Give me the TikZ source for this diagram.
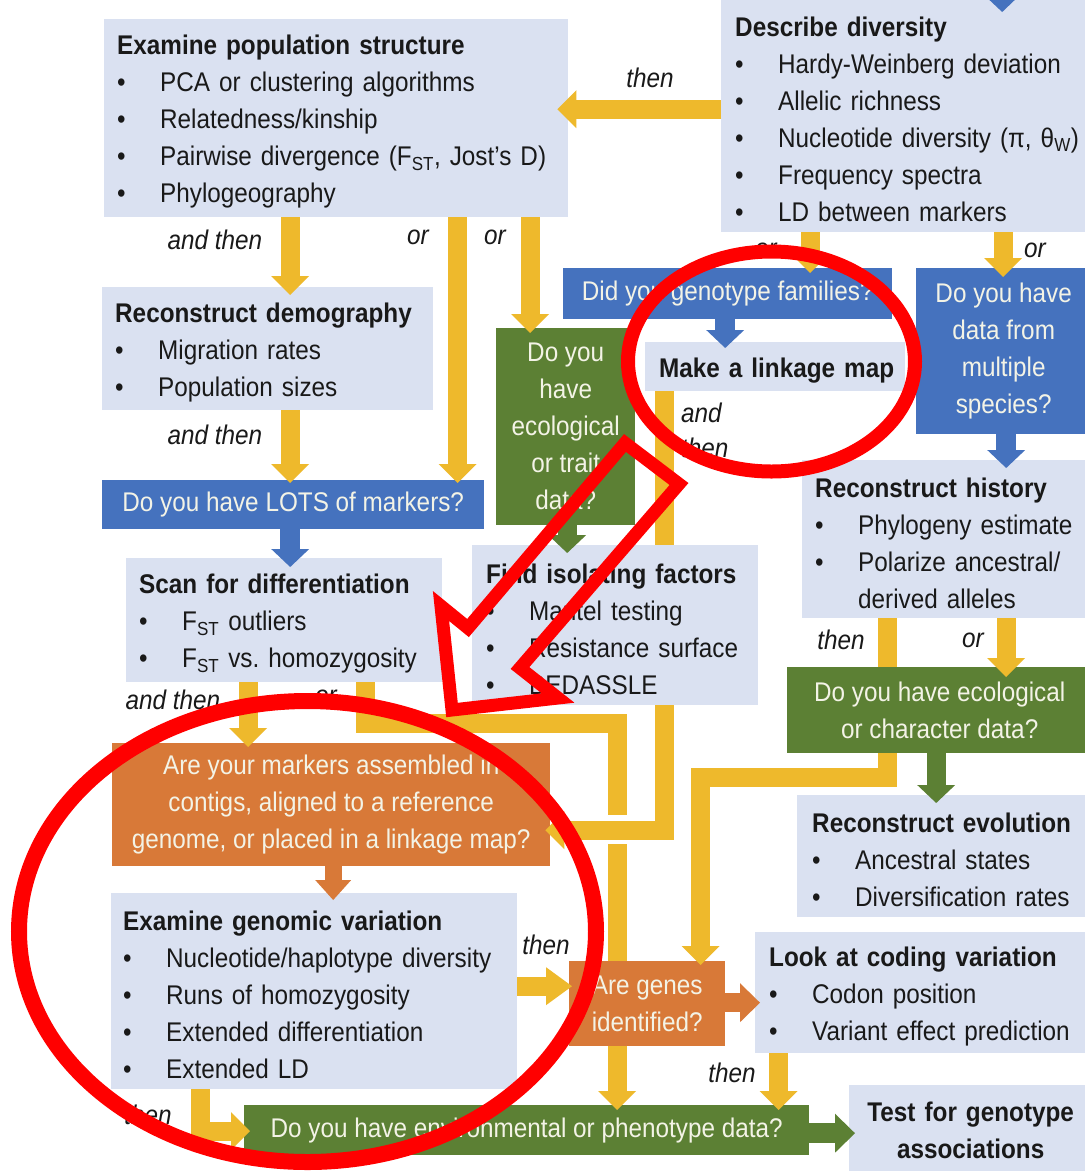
\documentclass[tikz,border=0pt]{standalone}
\usepackage{fontspec}
\setmainfont{Liberation Sans}[FakeStretch=0.90]
\usetikzlibrary{arrows.meta}
\definecolor{lbox}{RGB}{218,225,241}
\definecolor{bq}{RGB}{69,114,190}
\definecolor{gq}{RGB}{92,128,52}
\definecolor{oq}{RGB}{216,121,56}
\definecolor{yc}{RGB}{238,185,44}
\definecolor{qt}{RGB}{243,243,230}
\definecolor{tx}{RGB}{25,25,25}
\definecolor{rd}{RGB}{255,0,0}
\frenchspacing
\newcommand\bul{\makebox[43pt][l]{•}}
\newcommand\itm[1]{\\\bul\mbox{#1}}
\newcommand\ttl[1]{\rule{0pt}{27pt}\mbox{\textbf{#1}}}
\tikzset{
  fnt/.style={font=\fontsize{27}{37}\selectfont},
  lb/.style={fnt, text=tx, fill=lbox, anchor=north west, align=left, inner ysep=0pt, inner xsep=13pt},
  qb/.style={fnt, text=qt, fill=#1, anchor=north west, align=center, inner sep=0pt},
  lab/.style={font=\fontsize{27}{37}\selectfont\itshape, text=tx, inner sep=0pt},
  blk/.style n args={4}{draw=#1, line width=#2, -{Triangle[width=#3,length=#4,line width=0pt]}},
  yarr/.style={blk={yc}{19pt}{38pt}{19pt}},
  barr/.style={blk={bq}{20pt}{38pt}{18pt}},
  garr/.style={blk={gq}{19pt}{38pt}{18pt}},
  oarr/.style={blk={oq}{17pt}{36pt}{20pt}},
  redmark/.style={draw=rd, line width=#1, line join=miter},
}
\begin{document}
\begin{tikzpicture}[x=1pt,y=-1pt]
\useasboundingbox (0,0) rectangle (1085,1171);
\clip (0,0) rectangle (1085,1171);
\fill[white] (0,0) rectangle (1085,1171);

% ---------- boxes ----------
\node[lb, inner xsep=14pt, text width=352pt, minimum height=234pt] (desc) at (721,-2)
  {\ttl{Describe diversity}\itm{Hardy-Weinberg deviation}\itm{Allelic richness}\itm{Nucleotide diversity (π, θ\textsubscript{W})}\itm{Frequency spectra}\itm{LD between markers}};
\node[lb, text width=438pt, minimum height=198pt] (pop) at (104,19)
  {\ttl{Examine population structure}\itm{PCA or clustering algorithms}\itm{Relatedness/kinship}\itm{Pairwise divergence (F\textsubscript{ST}, Jost’s D)}\itm{Phylogeography}};
\node[lb, text width=305pt, minimum height=123pt] (demog) at (102,287)
  {\ttl{Reconstruct demography}\itm{Migration rates}\itm{Population sizes}};
\node[qb=bq, minimum width=382pt, minimum height=49pt] (lots) at (102,480) {Do you have LOTS of markers?};
\node[lb, text width=290pt, minimum height=124pt] (scan) at (126,558)
  {\ttl{Scan for differentiation}\itm{F\textsubscript{ST} outliers}\itm{F\textsubscript{ST} vs. homozygosity}};
\node[qb=bq, minimum width=329pt, minimum height=51pt] (fam) at (563,268) {Did you genotype families?};
\node[qb=bq, minimum width=175pt, minimum height=166pt] (multi) at (916,268) {Do you have\\data from\\multiple\\species?};
\node[qb=gq, minimum width=139pt, minimum height=197pt] (ecotrait) at (496,328) {Do you\\have\\ecological\\or trait\\data?};
\node[lb, inner xsep=14pt, text width=232pt, minimum height=49pt] (link) at (645,342) {\ttl{Make a linkage map}};
\node[lb, text width=274pt, minimum height=158pt] (hist) at (802,460)
  {\ttl{Reconstruct history}\itm{Phylogeny estimate}\itm{Polarize ancestral/}\\\hspace*{43pt}\mbox{derived alleles}};
\node[qb=oq, minimum width=438pt, minimum height=123pt] (markers) at (112,743)
  {Are your markers assembled in\\contigs, aligned to a reference\\genome, or placed in a linkage map?};
\node[lb, inner xsep=12pt, text width=382pt, minimum height=196pt] (gen) at (111,893)
  {\ttl{Examine genomic variation}\itm{Nucleotide/haplotype diversity}\itm{Runs of homozygosity}\itm{Extended differentiation}\itm{Extended LD}};
\node[lb, inner xsep=15pt, text width=270pt, minimum height=122pt] (evol) at (797,795)
  {\ttl{Reconstruct evolution}\itm{Ancestral states}\itm{Diversification rates}};
\node[lb, inner xsep=14pt, text width=312pt, minimum height=121pt] (code) at (755,932)
  {\ttl{Look at coding variation}\itm{Codon position}\itm{Variant effect prediction}};
\node[qb=gq, minimum width=565pt, minimum height=50pt] (env) at (244,1105) {Do you have environmental or phenotype data?};
\node[lb, align=center, inner xsep=0pt, text width=243pt, minimum height=91pt] (test) at (849,1085)
  {\textbf{Test for genotype}\\\textbf{associations}};

% ---------- connectors passing behind boxes ----------
\draw[yarr] ([xshift=81pt]scan.south) -- ++(0,41.5) -| ([xshift=90.5pt,yshift=-5pt]env.north);
\node[qb=oq, minimum width=156pt, minimum height=85pt] (genes) at (569,961) {Are genes\\identified?};

\fill[white] (598,815) rectangle (636,844);
\draw[yarr] ([xshift=-111pt]link.south) |- ([xshift=-5pt,yshift=-25.5pt]markers.east);
\node[lb, inner xsep=14pt, text width=258pt, minimum height=160pt] (iso) at (472,545)
  {\ttl{Find isolating factors}\itm{Mantel testing}\itm{Resistance surface}\itm{BEDASSLE}};

\draw[yarr] ([xshift=-65pt]hist.south) -- ++(0,159.5) -| ([xshift=53.5pt,yshift=-4pt]genes.north);
\node[qb=gq, minimum width=305pt, minimum height=86pt] (ecochar) at (787,667) {Do you have ecological\\or character data?};

% ---------- other connectors ----------
\coordinate (topsrc) at (1002,-40);
\draw[barr] (topsrc) -- ([xshift=91pt,yshift=-14pt]desc.north);
\draw[yarr] ([yshift=6pt]desc.west) -- ([xshift=-11pt,yshift=9pt]pop.east);
\draw[yarr] ([xshift=-46pt]pop.south) -- ([xshift=22.5pt,yshift=-8pt]demog.north);
\draw[yarr] ([xshift=121.5pt]pop.south) -- ([xshift=164.5pt,yshift=-3pt]lots.north);
\draw[yarr] ([xshift=194pt]pop.south) -- ([xshift=-35.5pt,yshift=-5pt]ecotrait.north);
\draw[yarr] ([xshift=22.5pt]demog.south) -- ([xshift=-3pt,yshift=-3pt]lots.north);
\draw[barr] ([xshift=-3pt]lots.south) -- ([xshift=6pt,yshift=-9pt]scan.north);
\draw[yarr] ([xshift=-101pt]desc.south) -- ([xshift=82.5pt,yshift=-5pt]fam.north);
\draw[yarr] ([xshift=92pt]desc.south) -- ([xshift=-0.5pt,yshift=-9pt]multi.north);
\draw[barr] ([xshift=-2.5pt]fam.south) -- ([xshift=-50pt,yshift=-6pt]link.north);
\draw[barr] ([xshift=2.5pt]multi.south) -- ([xshift=54pt,yshift=-8pt]hist.north);
\draw[garr] ([xshift=1.5pt]ecotrait.south) -- ([xshift=-48pt,yshift=-8pt]iso.north);
\draw[yarr] ([xshift=54pt]hist.south) -- ([xshift=66.5pt,yshift=-10pt]ecochar.north);
\draw[garr] ([xshift=-3.5pt]ecochar.south) -- ([xshift=-11pt,yshift=-8pt]evol.north);
\draw[oarr] ([xshift=2pt]markers.south) -- ([xshift=19pt,yshift=-7pt]gen.north);
\draw[yarr] ([xshift=-36pt]scan.south) -- ([xshift=-83pt,yshift=-4pt]markers.north);
\draw[blk={yc}{19pt}{38pt}{26pt}] ([yshift=5pt]gen.east) -- ([xshift=3pt,yshift=17.5pt]genes.west);
\draw[blk={oq}{19pt}{39pt}{20pt}] ([yshift=1pt]genes.east) -- ([xshift=5pt,yshift=-10pt]code.west);
\draw[yarr] ([xshift=-146.5pt]code.south) -- ([xshift=252pt,yshift=-5pt]env.north);
\draw[blk={gq}{20pt}{39pt}{20pt}] ([yshift=-3pt]env.east) -- ([xshift=6pt,yshift=-2.5pt]test.west);
\draw[yarr] ([xshift=-114pt]gen.south) |- ([xshift=6pt,yshift=-1pt]env.west);

% ---------- labels ----------
\node[lab] (t1) at (650,78) {then};
\node[lab] (t2) at (215,240) {and then};
\node[lab] (t3) at (418,237) {or};
\node[lab] (t4) at (495,237) {or};
\node[lab] (t5) at (215,435) {and then};
\node[lab] (t6) at (766,250) {or};
\node[lab] (t7) at (1035,250) {or};
\node[lab, anchor=west] (t8) at (681,413) {and};
\node[lab, anchor=west] (t9) at (681,448) {then};
\node[lab] (t10) at (841,640) {then};
\node[lab] (t11) at (973,640) {or};
\node[lab] (t12) at (173,700) {and then};
\node[lab] (t13) at (326,697) {or};
\node[lab] (t14) at (546,945) {then};
\node[lab] (t15) at (732,1073) {then};
\node[lab] (t16) at (148,1115) {then};

% ---------- red annotations ----------
\draw[redmark=14pt] (771.5,361.5) ellipse [x radius=143.5pt, y radius=110pt];
\draw[redmark=16pt] (307.5,931.5) ellipse [x radius=288.5pt, y radius=230.5pt];
\draw[redmark=13pt] (625,443) -- (679,484) -- (520,668) -- (558,698) -- (452,710) -- (441,606) -- (468,628) -- cycle;
\end{tikzpicture}
\end{document}
